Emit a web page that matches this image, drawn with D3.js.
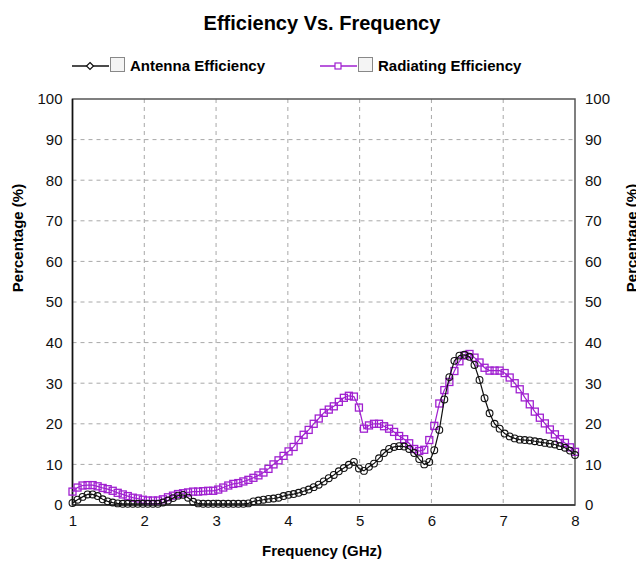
<!DOCTYPE html>
<html>
<head>
<meta charset="utf-8">
<script src="https://cdn.jsdelivr.net/npm/d3@7"></script>
<style>
  body { margin: 0; background: #fff; }
  svg text { font-family: "Liberation Sans Narrow", "Arial Narrow", "Liberation Sans", Arial, sans-serif; }
</style>
</head>
<body>
<svg id="chart" width="636" height="561"></svg>
<script>
// frequency sweep (GHz)
var freq = [1.00, 1.07, 1.14, 1.21, 1.28, 1.35, 1.42, 1.49, 1.56, 1.63,
    1.70, 1.77, 1.84, 1.91, 1.98, 2.05, 2.12, 2.19, 2.26, 2.33,
    2.40, 2.47, 2.54, 2.61, 2.68, 2.75, 2.82, 2.89, 2.96, 3.03,
    3.10, 3.17, 3.24, 3.31, 3.38, 3.45, 3.52, 3.59, 3.66, 3.73,
    3.80, 3.87, 3.94, 4.01, 4.08, 4.15, 4.22, 4.29, 4.36, 4.43,
    4.50, 4.57, 4.64, 4.71, 4.78, 4.85, 4.92, 4.99, 5.06, 5.13,
    5.20, 5.27, 5.34, 5.41, 5.48, 5.55, 5.62, 5.69, 5.76, 5.83,
    5.90, 5.97, 6.04, 6.11, 6.18, 6.25, 6.32, 6.39, 6.46, 6.53,
    6.60, 6.67, 6.74, 6.81, 6.88, 6.95, 7.02, 7.09, 7.16, 7.23,
    7.30, 7.37, 7.44, 7.51, 7.58, 7.65, 7.72, 7.79, 7.86, 7.93, 8.00];

// Antenna Efficiency (%)
var antenna = [0.5, 1.3, 2.0, 2.6, 2.6, 2.2, 1.4, 0.9, 0.6, 0.4,
    0.3, 0.3, 0.3, 0.3, 0.3, 0.3, 0.3, 0.3, 0.6, 1.1,
    1.7, 2.3, 2.5, 1.8, 0.8, 0.4, 0.3, 0.3, 0.3, 0.3,
    0.3, 0.3, 0.3, 0.3, 0.3, 0.4, 0.9, 1.1, 1.3, 1.5,
    1.6, 1.8, 2.2, 2.5, 2.7, 3.0, 3.4, 3.8, 4.4, 5.0,
    5.8, 6.6, 7.4, 8.3, 9.1, 9.9, 10.6, 9.0, 8.4, 9.4,
    10.2, 11.5, 12.8, 13.8, 14.3, 14.5, 14.4, 13.8, 12.8, 11.3,
    10.0, 10.6, 13.5, 18.5, 26.0, 31.5, 35.5, 36.8, 37.0, 36.5,
    34.5, 30.8, 26.3, 22.6, 20.0, 18.8, 17.6, 16.9, 16.4, 16.1,
    16.0, 15.9, 15.7, 15.5, 15.3, 15.1, 14.9, 14.5, 14.1, 13.4, 12.3];

// Radiating Efficiency (%)
var radiating = [3.3, 4.3, 4.8, 4.9, 4.9, 4.6, 4.2, 3.9, 3.5, 3.0,
    2.6, 2.2, 1.8, 1.6, 1.3, 1.1, 1.1, 1.1, 1.4, 1.9,
    2.3, 2.7, 2.9, 3.1, 3.3, 3.3, 3.4, 3.5, 3.5, 3.8,
    4.3, 4.8, 5.2, 5.4, 5.8, 6.2, 6.7, 7.3, 8.0, 8.9,
    10.0, 11.0, 12.1, 13.2, 14.3, 16.0, 17.3, 18.5, 20.0, 21.3,
    22.7, 23.5, 24.3, 25.4, 26.4, 26.9, 26.7, 24.0, 18.8, 19.6,
    20.0, 20.0, 19.4, 18.8, 18.0, 17.0, 16.2, 15.2, 13.8, 13.3,
    13.6, 16.0, 19.5, 25.0, 28.3, 30.3, 33.0, 35.4, 36.8, 37.2,
    36.3, 35.1, 33.8, 33.1, 33.1, 33.1, 32.5, 31.4, 30.0, 28.5,
    26.5, 24.8, 23.0, 21.5, 20.1, 18.6, 17.4, 16.2, 15.3, 14.2, 13.1];

var xTicks = [1, 2, 3, 4, 5, 6, 7, 8];
var yTicks = [0, 10, 20, 30, 40, 50, 60, 70, 80, 90, 100];

var purple = "#a020d0";

var svg = d3.select("#chart");
var plotLeft = 72.5, plotRight = 575, plotTop = 99, plotBottom = 505;

var x = d3.scaleLinear().domain([1, 8]).range([plotLeft, plotRight]);
var y = d3.scaleLinear().domain([0, 100]).range([plotBottom, plotTop]);

// title
svg.append("text")
    .attr("x", 322).attr("y", 30)
    .attr("text-anchor", "middle")
    .style("font-size", "20px").style("font-weight", "bold")
    .text("Efficiency Vs. Frequency");

// grid
svg.append("g")
    .selectAll("line").data(xTicks.slice(1, -1)).enter().append("line")
    .attr("x1", d => x(d)).attr("x2", d => x(d))
    .attr("y1", plotTop).attr("y2", plotBottom)
    .attr("stroke", "#a8a8a8").attr("stroke-dasharray", "4,4");
svg.append("g")
    .selectAll("line").data(yTicks.slice(1, -1)).enter().append("line")
    .attr("x1", plotLeft).attr("x2", plotRight)
    .attr("y1", d => y(d)).attr("y2", d => y(d))
    .attr("stroke", "#a8a8a8").attr("stroke-dasharray", "4,4");

// axes
var xAxis = svg.append("g")
    .attr("transform", "translate(0," + plotBottom + ")")
    .call(d3.axisBottom(x).tickValues(xTicks).tickSize(0).tickPadding(10).tickFormat(d3.format("d")));
var yAxisL = svg.append("g")
    .attr("transform", "translate(" + plotLeft + ",0)")
    .call(d3.axisLeft(y).tickValues(yTicks).tickSize(0).tickPadding(10));
var yAxisR = svg.append("g")
    .attr("transform", "translate(" + plotRight + ",0)")
    .call(d3.axisRight(y).tickValues(yTicks).tickSize(0).tickPadding(10));
[xAxis, yAxisL, yAxisR].forEach(function (a) {
    a.select(".domain").remove();
    a.selectAll("text").style("font-size", "15px").attr("fill", "#111");
});

// frame
svg.append("rect")
    .attr("x", plotLeft).attr("y", plotTop)
    .attr("width", plotRight - plotLeft).attr("height", plotBottom - plotTop)
    .attr("fill", "none").attr("stroke", "#555").attr("stroke-width", 1.5);
svg.append("line").attr("x1", plotLeft).attr("x2", plotLeft).attr("y1", plotTop).attr("y2", plotBottom)
    .attr("stroke", "#111").attr("stroke-width", 1.5);
svg.append("line").attr("x1", plotLeft).attr("x2", plotRight).attr("y1", plotBottom).attr("y2", plotBottom)
    .attr("stroke", "#333").attr("stroke-width", 1.5);

// axis titles
svg.append("text")
    .attr("x", 322).attr("y", 556)
    .attr("text-anchor", "middle")
    .style("font-size", "15px").style("font-weight", "bold")
    .text("Frequency (GHz)");
svg.append("text")
    .attr("transform", "translate(23,238) rotate(-90)")
    .attr("text-anchor", "middle")
    .style("font-size", "15px").style("font-weight", "bold")
    .text("Percentage (%)");
// right-hand copy sits partly past the edge, as in the original export
svg.append("text")
    .attr("transform", "translate(637,238) rotate(-90)")
    .attr("text-anchor", "middle")
    .style("font-size", "15px").style("font-weight", "bold")
    .text("Percentage (%)");

// series
var line = d3.line().x(d => x(d[0])).y(d => y(d[1]));
var radData = freq.map((f, i) => [f, radiating[i]]);
var antData = freq.map((f, i) => [f, antenna[i]]);

svg.append("path").datum(radData)
    .attr("d", line).attr("fill", "none")
    .attr("stroke", purple).attr("stroke-width", 1.2);
svg.append("g").selectAll("rect").data(radData).enter().append("rect")
    .attr("x", d => x(d[0]) - 3.5).attr("y", d => y(d[1]) - 3.5)
    .attr("width", 7).attr("height", 7)
    .attr("fill", "none").attr("stroke", purple).attr("stroke-width", 1.3);

svg.append("path").datum(antData)
    .attr("d", line).attr("fill", "none")
    .attr("stroke", "#111").attr("stroke-width", 1.2);
svg.append("g").selectAll("circle").data(antData).enter().append("circle")
    .attr("cx", d => x(d[0])).attr("cy", d => y(d[1]))
    .attr("r", 3.4)
    .attr("fill", "none").attr("stroke", "#111").attr("stroke-width", 1.1);

// legend
var legendItems = [
    {name: "Antenna Efficiency", color: "#111", marker: "diamond", x: 72},
    {name: "Radiating Efficiency", color: purple, marker: "square", x: 320}
];
var lg = svg.append("g").selectAll("g").data(legendItems).enter().append("g")
    .attr("transform", d => "translate(" + d.x + ",66)");
lg.append("line").attr("x1", 0).attr("x2", 37).attr("y1", 0).attr("y2", 0)
    .attr("stroke", d => d.color).attr("stroke-width", 1.5);
lg.filter(d => d.marker === "diamond").append("path")
    .attr("d", "M18,-3.5L21.5,0L18,3.5L14.5,0Z")
    .attr("fill", "#fff").attr("stroke", d => d.color).attr("stroke-width", 1.2);
lg.filter(d => d.marker === "square").append("rect")
    .attr("x", 15).attr("y", -3).attr("width", 6).attr("height", 6)
    .attr("fill", "#fff").attr("stroke", d => d.color).attr("stroke-width", 1.2);
lg.append("rect")
    .attr("x", 38.5).attr("y", -8.5).attr("width", 14).attr("height", 14)
    .attr("fill", "#f4f4f4").attr("stroke", "#888").attr("stroke-width", 1);
lg.append("text")
    .attr("x", 58).attr("y", 5)
    .style("font-size", "15px").style("font-weight", "bold")
    .text(d => d.name);
</script>
</body>
</html>
